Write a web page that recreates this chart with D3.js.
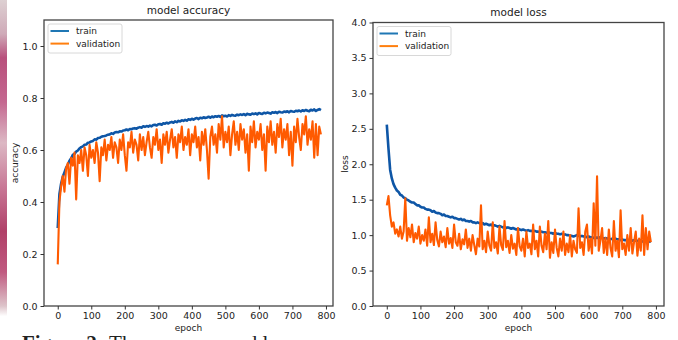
<!DOCTYPE html>
<html>
<head>
<meta charset="utf-8">
<script src="https://cdnjs.cloudflare.com/ajax/libs/d3/7.8.5/d3.min.js"></script>
<style>
  html, body { margin: 0; padding: 0; background: #fff; }
  svg { display: block; }
  text { font-family: "DejaVu Sans", sans-serif; fill: #222; }
</style>
</head>
<body>
<div id="chart"></div>
<script>
// epochs are sampled every 5 steps, 0..785
const epochStep = 5;

const accTrain = [
  .300,.430,.470,.497,.514,.532,.543,.559,.568,.581,
  .585,.594,.598,.606,.611,.614,.620,.621,.628,.629,
  .633,.635,.641,.640,.646,.647,.651,.653,.654,.656,
  .659,.660,.664,.662,.667,.669,.668,.672,.671,.675,
  .676,.679,.676,.681,.680,.683,.684,.682,.686,.688,
  .686,.691,.689,.692,.690,.694,.691,.696,.697,.694,
  .699,.700,.697,.703,.701,.705,.702,.706,.708,.705,
  .710,.707,.712,.710,.714,.712,.716,.713,.718,.716,
  .720,.717,.721,.723,.719,.724,.722,.726,.723,.725,
  .728,.724,.729,.726,.730,.728,.731,.727,.733,.730,
  .732,.729,.734,.731,.735,.733,.732,.736,.734,.737,
  .735,.738,.734,.739,.737,.736,.740,.738,.741,.737,
  .742,.740,.739,.743,.741,.744,.742,.740,.745,.743,
  .746,.742,.747,.745,.744,.748,.746,.749,.745,.750,
  .748,.747,.751,.749,.752,.748,.753,.750,.754,.751,
  .749,.755,.752,.756,.750,.754,.757,.753
];

const accVal = [
  .16,.40,.46,.50,.44,.53,.55,.47,.57,.54,
  .59,.41,.58,.55,.60,.52,.61,.58,.50,.62,
  .57,.60,.55,.63,.59,.48,.61,.58,.64,.56,
  .62,.60,.65,.57,.63,.61,.55,.64,.60,.66,
  .58,.52,.63,.61,.67,.59,.64,.62,.56,.66,
  .60,.65,.58,.63,.67,.61,.57,.65,.62,.68,
  .60,.64,.55,.66,.62,.67,.59,.64,.68,.61,
  .65,.57,.66,.63,.69,.60,.65,.62,.68,.58,
  .66,.63,.69,.61,.65,.56,.67,.62,.68,.60,
  .49,.65,.69,.62,.66,.59,.70,.64,.73,.61,
  .67,.63,.69,.58,.66,.71,.62,.67,.60,.70,
  .64,.68,.59,.66,.52,.69,.63,.71,.61,.67,
  .64,.70,.60,.66,.52,.69,.63,.71,.62,.67,
  .59,.70,.65,.72,.61,.68,.64,.70,.58,.67,
  .54,.69,.63,.72,.65,.60,.70,.66,.73,.62,
  .68,.64,.71,.57,.70,.58,.69,.66
];

const lossTrain = [
  2.56,2.22,1.92,1.80,1.72,1.67,1.63,1.61,1.57,1.56,
  1.53,1.52,1.50,1.49,1.47,1.46,1.46,1.44,1.42,1.42,
  1.40,1.39,1.39,1.37,1.36,1.36,1.35,1.33,1.34,1.32,
  1.31,1.31,1.30,1.28,1.29,1.27,1.27,1.26,1.25,1.26,
  1.24,1.24,1.23,1.22,1.23,1.21,1.22,1.20,1.20,1.19,
  1.20,1.18,1.18,1.17,1.18,1.17,1.16,1.17,1.15,1.16,
  1.15,1.14,1.15,1.13,1.14,1.13,1.12,1.13,1.12,1.11,
  1.12,1.10,1.11,1.10,1.09,1.10,1.09,1.08,1.09,1.08,
  1.07,1.08,1.07,1.06,1.07,1.06,1.06,1.05,1.06,1.05,
  1.05,1.04,1.05,1.04,1.04,1.03,1.04,1.03,1.03,1.02,
  1.03,1.02,1.02,1.01,1.02,1.00,1.01,1.00,1.00,0.99,
  0.99,0.98,0.99,1.00,0.99,0.98,0.99,0.98,0.98,0.97,
  0.98,0.97,0.97,0.96,0.97,0.96,0.97,0.96,0.96,0.95,
  0.96,0.95,0.95,0.94,0.95,0.94,0.95,0.94,0.94,0.93,
  0.94,0.93,0.93,0.92,0.93,0.93,0.92,0.93,0.92,0.92,
  0.91,0.92,0.91,0.92,0.91,0.90,0.91,0.91
];

const lossVal = [
  1.42,1.55,1.28,1.12,1.18,1.02,1.08,0.98,1.12,0.95,
  1.05,1.52,0.92,1.10,0.97,1.15,0.90,1.03,0.95,1.12,
  0.88,1.00,0.92,1.08,0.85,1.25,0.90,1.02,0.86,1.18,
  0.93,0.84,1.05,0.90,0.98,0.83,1.10,0.88,0.96,0.82,
  1.15,0.90,0.85,1.02,0.80,0.94,0.87,1.08,0.82,0.95,
  0.78,1.00,0.86,0.73,0.95,0.84,1.42,0.80,0.92,0.76,
  1.05,0.85,0.78,1.18,0.82,0.90,0.74,1.12,0.86,0.79,
  1.20,0.83,0.92,0.75,1.00,0.81,0.88,0.72,1.10,0.84,
  0.78,0.95,0.70,1.05,0.82,0.88,0.73,1.15,0.80,0.92,
  0.70,1.12,0.85,0.76,1.02,0.80,1.20,0.68,0.90,0.75,
  1.08,0.82,0.70,0.95,0.78,1.05,0.72,0.88,0.76,1.00,
  0.70,0.92,0.80,0.75,1.38,0.82,0.90,0.72,1.05,1.15,
  0.78,0.95,0.74,1.45,0.85,1.83,0.78,0.92,1.10,0.75,
  0.96,0.72,1.08,0.82,0.70,1.20,0.78,0.92,0.69,1.35,
  0.80,0.88,0.72,1.00,0.78,1.10,0.74,0.90,1.05,0.71,
  0.95,0.78,1.28,0.72,1.10,0.80,1.05,0.90
];

const accTicks = [0, 0.2, 0.4, 0.6, 0.8, 1.0];
const lossTicks = [0, 0.5, 1.0, 1.5, 2.0, 2.5, 3.0, 3.5, 4.0];
const epochTicks = [0, 100, 200, 300, 400, 500, 600, 700, 800];
const seriesNames = ['train', 'validation'];

const W = 678, H = 340;
const lineColor = { train: '#0e56a6', validation: '#ff5a00' };
const legendColor = { train: '#1f77b4', validation: '#ff7f0e' };

const svg = d3.select('#chart').append('svg')
  .attr('width', W).attr('height', H);

svg.append('rect').attr('width', W).attr('height', H).attr('fill', '#fff');

// cropped photo strip at the left edge
const grad = svg.append('defs').append('linearGradient')
  .attr('id', 'strip').attr('x1', 0).attr('x2', 0).attr('y1', 0).attr('y2', 1);
[[0, '#ddd0d2'], [0.1, '#cfaab8'], [0.17, '#b8507c'], [0.3, '#c46890'], [0.42, '#dcb8c4'],
 [0.55, '#c87896'], [0.68, '#b04068'], [0.8, '#c05a80'], [0.9, '#ddc4ca'], [0.93, '#ffffff']]
  .forEach(s => grad.append('stop').attr('offset', s[0]).attr('stop-color', s[1]));
svg.append('rect').attr('x', 0).attr('y', 0).attr('width', 7).attr('height', H)
  .attr('fill', 'url(#strip)');

function panel(opt) {
  const x = d3.scaleLinear().domain([-41, opt.xmax]).range([opt.left, opt.right]);
  const y = d3.scaleLinear().domain(opt.ydomain).range([306, opt.top]);
  const g = svg.append('g');

  const line = d3.line()
    .x((d, i) => x(i * epochStep))
    .y(d => y(d));

  g.append('path').datum(opt.train)
    .attr('fill', 'none').attr('stroke', lineColor.train)
    .attr('stroke-width', 2.6).attr('stroke-linejoin', 'round')
    .attr('d', line);
  g.append('path').datum(opt.val)
    .attr('fill', 'none').attr('stroke', lineColor.validation)
    .attr('stroke-width', 2.1).attr('stroke-linejoin', 'round')
    .attr('d', line);

  // frame
  g.append('rect')
    .attr('x', opt.left).attr('y', opt.top)
    .attr('width', opt.right - opt.left).attr('height', 306 - opt.top)
    .attr('fill', 'none').attr('stroke', '#444').attr('stroke-width', 1.3);

  const xa = g.append('g').attr('transform', 'translate(0,306)')
    .call(d3.axisBottom(x).tickValues(epochTicks).tickSize(3.5).tickPadding(3).tickFormat(d3.format('d')));
  const ya = g.append('g').attr('transform', `translate(${opt.left},0)`)
    .call(d3.axisLeft(y).tickValues(opt.yticks).tickSize(3.5).tickPadding(3).tickFormat(d3.format('.1f')));
  [xa, ya].forEach(a => {
    a.select('.domain').remove();
    a.selectAll('.tick line').attr('stroke', '#333');
    a.selectAll('.tick text').attr('font-size', 9.5).attr('fill', '#222')
      .style('font-family', '"DejaVu Sans", sans-serif');
  });

  g.append('text').attr('x', (opt.left + opt.right) / 2).attr('y', opt.titleY)
    .attr('text-anchor', 'middle').attr('font-size', 10.5).text(opt.title);
  g.append('text').attr('x', (opt.left + opt.right) / 2).attr('y', 331)
    .attr('text-anchor', 'middle').attr('font-size', 9).text('epoch');
  g.append('text').attr('transform', `translate(${opt.ylabX},${opt.ylabY}) rotate(-90)`)
    .attr('text-anchor', 'middle').attr('font-size', 9).text(opt.ylabel);

  // legend
  const lg = g.append('g').attr('transform', `translate(${opt.left + 4},${opt.top + 4})`);
  lg.append('rect').attr('width', 74).attr('height', 29).attr('rx', 2)
    .attr('fill', '#fff').attr('fill-opacity', 0.85).attr('stroke', '#d8d8d8');
  seriesNames.forEach((s, i) => {
    lg.append('line').attr('x1', 2.5).attr('x2', 21).attr('y1', 7 + i * 12.6).attr('y2', 7 + i * 12.6)
      .attr('stroke', legendColor[s]).attr('stroke-width', 2);
    lg.append('text').attr('x', 28).attr('y', 10 + i * 12.6).attr('font-size', 9).text(s);
  });
}

panel({ left: 44, right: 333, top: 20, xmax: 821, ydomain: [0, 1.1], yticks: accTicks,
  train: accTrain, val: accVal, title: 'model accuracy', titleY: 14,
  ylabel: 'accuracy', ylabX: 18, ylabY: 163 });
panel({ left: 373, right: 664, top: 22.5, xmax: 824, ydomain: [0, 4], yticks: lossTicks,
  train: lossTrain, val: lossVal, title: 'model loss', titleY: 16,
  ylabel: 'loss', ylabX: 348, ylabY: 164 });

// caption cut off by the bottom edge
svg.append('text').attr('x', 22).attr('y', 350)
  .style('font-family', '"Liberation Serif", serif').attr('font-size', 21).attr('fill', '#111')
  .call(t => {
    t.append('tspan').attr('font-weight', 'bold').text('Figure 2: ');
    t.append('tspan').text('The accuracy and loss');
  });
</script>
</body>
</html>
